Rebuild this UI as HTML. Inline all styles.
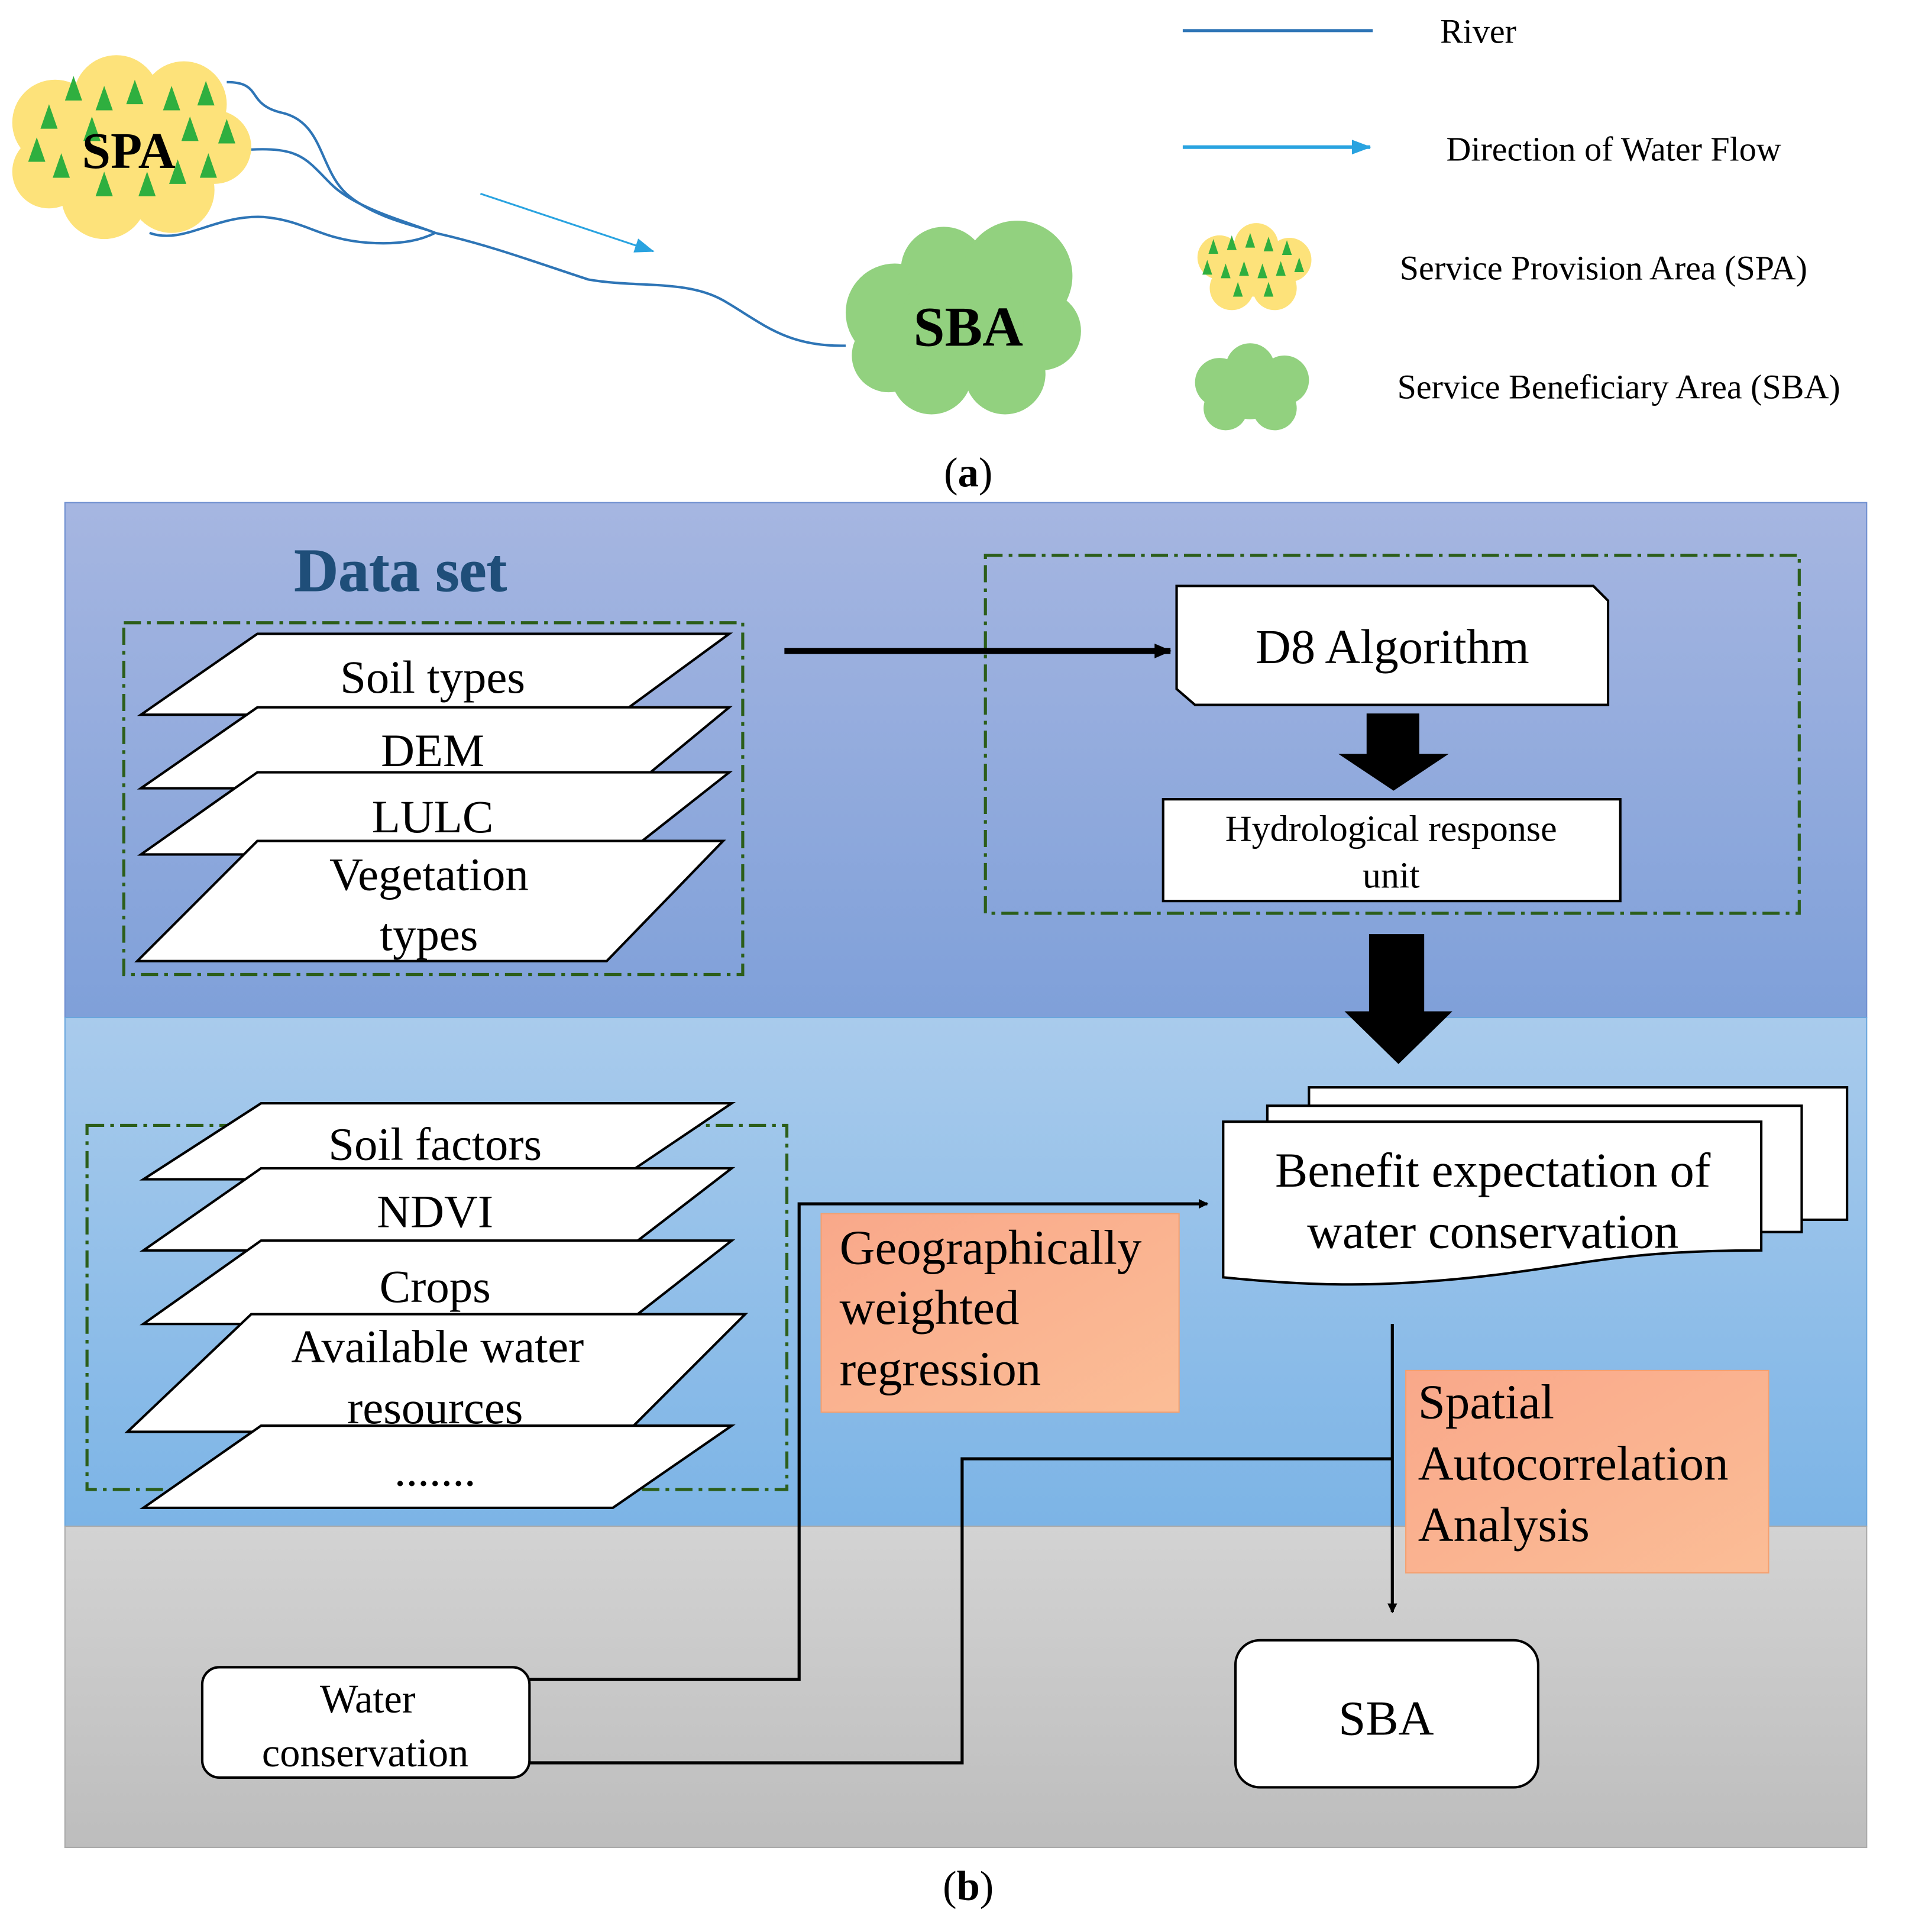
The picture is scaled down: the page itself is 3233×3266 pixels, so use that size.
<!DOCTYPE html>
<html><head><meta charset="utf-8"><style>html,body{margin:0;padding:0;background:#fff}svg{display:block}text{font-family:"Liberation Serif",serif}</style></head>
<body>
<svg width="3233" height="3266" viewBox="0 0 1560 1576" preserveAspectRatio="none" xmlns="http://www.w3.org/2000/svg">
<defs>
<linearGradient id="g1" x1="0" y1="0" x2="0" y2="1"><stop offset="0" stop-color="#a6b6e1"/><stop offset="1" stop-color="#7fa0d9"/></linearGradient>
<linearGradient id="g2" x1="0" y1="0" x2="0" y2="1"><stop offset="0" stop-color="#a9cbec"/><stop offset="1" stop-color="#7cb4e6"/></linearGradient>
<linearGradient id="g3" x1="0" y1="0" x2="0" y2="1"><stop offset="0" stop-color="#d3d3d3"/><stop offset="1" stop-color="#bdbdbd"/></linearGradient>
<linearGradient id="go" x1="0" y1="0" x2="1" y2="1"><stop offset="0" stop-color="#f9a88a"/><stop offset="1" stop-color="#fbbd96"/></linearGradient>
<marker id="ab" markerWidth="8" markerHeight="8" refX="7" refY="4" orient="auto" markerUnits="userSpaceOnUse"><path d="M0,0 L8,4 L0,8z" fill="#000"/></marker>
<marker id="abig" markerWidth="14" markerHeight="12" refX="13" refY="6" orient="auto" markerUnits="userSpaceOnUse"><path d="M0,0 L14,6 L0,12z" fill="#000"/></marker>
<marker id="blue" markerWidth="16" markerHeight="12" refX="15" refY="6" orient="auto" markerUnits="userSpaceOnUse"><path d="M0,0 L16,6 L0,12z" fill="#29a3e0"/></marker>
</defs>
<g fill="#fde27a">
<circle cx="45" cy="100" r="35"/><circle cx="95" cy="80" r="35"/><circle cx="150" cy="85" r="35"/><circle cx="175" cy="120" r="30"/><circle cx="140" cy="155" r="35"/><circle cx="85" cy="160" r="35"/><circle cx="40" cy="140" r="30"/><circle cx="105" cy="120" r="45"/>
</g>
<g fill="#2faf3f">
<path d="M60,62 l-7,20 h14z M85,70 l-7,20 h14z M110,65 l-7,20 h14z M140,70 l-7,20 h14z M168,66 l-7,20 h14z M40,85 l-7,20 h14z M75,95 l-7,20 h14z M155,95 l-7,20 h14z M185,97 l-7,20 h14z M30,112 l-7,20 h14z M50,125 l-7,20 h14z M85,140 l-7,20 h14z M120,140 l-7,20 h14z M145,130 l-7,20 h14z M170,125 l-7,20 h14z"/>
</g>
<text x="105" y="137" font-size="42" font-weight="bold" text-anchor="middle">SPA</text>
<g fill="none" stroke="#2e75b6" stroke-width="2">
<path d="M185,67 C215,67 200,85 230,92 C265,100 260,140 285,160 C310,180 345,185 355,190"/>
<path d="M205,122 C245,120 250,130 270,150 C290,170 330,180 355,190"/>
<path d="M122,190 C150,200 175,175 215,177 C250,180 260,195 300,198 C330,200 345,195 355,190 C400,200 440,215 480,228 C520,235 560,228 590,245 C620,262 640,283 690,282"/>
</g>
<line x1="392" y1="158" x2="533" y2="205" stroke="#29a3e0" stroke-width="1.5" marker-end="url(#blue)"/>
<g fill="#92d17f">
<circle cx="730" cy="255" r="40"/><circle cx="770" cy="220" r="35"/><circle cx="830" cy="225" r="45"/><circle cx="850" cy="270" r="32"/><circle cx="820" cy="305" r="33"/><circle cx="760" cy="305" r="33"/><circle cx="725" cy="290" r="30"/><circle cx="785" cy="265" r="50"/>
</g>
<text x="790" y="282" font-size="46" font-weight="bold" text-anchor="middle">SBA</text>
<line x1="965" y1="25" x2="1120" y2="25" stroke="#2e75b6" stroke-width="2.5"/>
<text x="1175" y="35" font-size="28">River</text>
<line x1="965" y1="120" x2="1118" y2="120" stroke="#29a3e0" stroke-width="3" marker-end="url(#blue)"/>
<text x="1180" y="131" font-size="28">Direction of Water Flow</text>
<g fill="#fde27a"><circle cx="995" cy="210" r="18"/><circle cx="1025" cy="200" r="18"/><circle cx="1052" cy="212" r="18"/><circle cx="1040" cy="235" r="18"/><circle cx="1005" cy="235" r="18"/><circle cx="1022" cy="220" r="22"/></g>
<g fill="#2faf3f"><path d="M990,195 l-4,12 h8z M1005,192 l-4,12 h8z M1020,190 l-4,12 h8z M1035,193 l-4,12 h8z M1050,196 l-4,12 h8z M985,212 l-4,12 h8z M1000,215 l-4,12 h8z M1015,213 l-4,12 h8z M1030,215 l-4,12 h8z M1045,213 l-4,12 h8z M1060,210 l-4,12 h8z M1010,230 l-4,12 h8z M1035,230 l-4,12 h8z"/></g>
<text x="1142" y="228" font-size="28">Service Provision Area (SPA)</text>
<g fill="#92d17f"><circle cx="995" cy="312" r="20"/><circle cx="1020" cy="300" r="20"/><circle cx="1048" cy="310" r="20"/><circle cx="1040" cy="333" r="18"/><circle cx="1000" cy="333" r="18"/><circle cx="1020" cy="318" r="24"/></g>
<text x="1140" y="325" font-size="28">Service Beneficiary Area (SBA)</text>
<text x="790" y="397" font-size="34" text-anchor="middle">(<tspan font-weight="bold">a</tspan>)</text>
<rect x="53" y="410" width="1470" height="420" fill="url(#g1)" stroke="#6f8fd0"/>
<rect x="53" y="830" width="1470" height="415" fill="url(#g2)" stroke="#6aa6dd"/>
<rect x="53" y="1245" width="1470" height="262" fill="url(#g3)" stroke="#aaa"/>
<text x="240" y="482" font-size="50" font-weight="bold" fill="#1f4e79" stroke="#1f4e79" stroke-width="0.5">Data set</text>
<g fill="none" stroke="#2c5e1a" stroke-width="2.5" stroke-dasharray="14,5,3,5">
<rect x="101" y="508" width="505" height="287"/>
<rect x="804" y="453" width="664" height="292"/>
<rect x="71" y="918" width="571" height="297"/>
</g>
<g fill="#fff" stroke="#000" stroke-width="2">
<path d="M115,583 L210,517 L595,517 L505,583z"/>
<path d="M115,643 L210,577 L595,577 L515,643z"/>
<path d="M115,697 L210,630 L595,630 L510,697z"/>
<path d="M112,784 L210,686 L590,686 L495,784z"/>
<path d="M117,962 L213,900 L597,900 L505,962z"/>
<path d="M117,1020 L213,953 L597,953 L510,1020z"/>
<path d="M117,1080 L213,1012 L597,1012 L510,1080z"/>
<path d="M104,1168 L205,1072 L608,1072 L512,1168z"/>
<path d="M117,1230 L213,1163 L597,1163 L500,1230z"/>
</g>
<g font-size="38" text-anchor="middle">
<text x="353" y="565">Soil types</text>
<text x="353" y="625">DEM</text>
<text x="353" y="679">LULC</text>
<text x="350" y="726">Vegetation</text>
<text x="350" y="775">types</text>
<text x="355" y="946">Soil factors</text>
<text x="355" y="1001">NDVI</text>
<text x="355" y="1062">Crops</text>
<text x="357" y="1111">Available water</text>
<text x="355" y="1161">resources</text>
<text x="355" y="1212">.......</text>
</g>
<line x1="640" y1="531" x2="955" y2="531" stroke="#000" stroke-width="5" marker-end="url(#abig)"/>
<path d="M960,478 L1300,478 L1312,490 L1312,575 L975,575 L960,562z" fill="#fff" stroke="#000" stroke-width="2"/>
<text x="1136" y="541" font-size="40" text-anchor="middle">D8 Algorithm</text>
<path d="M1115,582 h43 v33 h24 l-45,30 l-45,-30 h23z" fill="#000"/>
<rect x="949" y="652" width="373" height="83" fill="#fff" stroke="#000" stroke-width="2"/>
<text x="1135" y="686" font-size="30" text-anchor="middle">Hydrological response</text>
<text x="1135" y="724" font-size="30" text-anchor="middle">unit</text>
<path d="M1117,762 h45 v63 h23 l-44,43 l-44,-43 h20z" fill="#000"/>
<g fill="#fff" stroke="#000" stroke-width="2">
<rect x="1068" y="887" width="439" height="108"/>
<rect x="1034" y="902" width="436" height="103"/>
<path d="M998,915 H1437 V1020 C1330,1020 1300,1030 1220,1040 C1120,1052 1060,1048 998,1042z"/>
</g>
<text x="1218" y="968" font-size="40" text-anchor="middle">Benefit expectation of</text>
<text x="1218" y="1018" font-size="40" text-anchor="middle">water conservation</text>
<rect x="670" y="990" width="292" height="162" fill="url(#go)" stroke="#f4a070"/>
<g font-size="40"><text x="685" y="1031">Geographically</text><text x="685" y="1080">weighted</text><text x="685" y="1130">regression</text></g>
<rect x="1147" y="1118" width="296" height="165" fill="url(#go)" stroke="#f4a070"/>
<g font-size="40"><text x="1157" y="1157">Spatial</text><text x="1157" y="1207">Autocorrelation</text><text x="1157" y="1257">Analysis</text></g>
<g fill="none" stroke="#000" stroke-width="2.5">
<path d="M432,1370 H652 V982 H985" marker-end="url(#ab)"/>
<path d="M1136,1080 V1315" marker-end="url(#ab)"/>
<path d="M432,1438 H785 V1190 H1136"/>
</g>
<rect x="165" y="1360" width="267" height="90" rx="14" fill="#fff" stroke="#000" stroke-width="2"/>
<text x="300" y="1397" font-size="33" text-anchor="middle">Water</text>
<text x="298" y="1441" font-size="33" text-anchor="middle">conservation</text>
<rect x="1008" y="1338" width="247" height="120" rx="20" fill="#fff" stroke="#000" stroke-width="2"/>
<text x="1131" y="1415" font-size="40" text-anchor="middle">SBA</text>
<text x="790" y="1550" font-size="34" text-anchor="middle">(<tspan font-weight="bold">b</tspan>)</text>
</svg>
</body></html>
